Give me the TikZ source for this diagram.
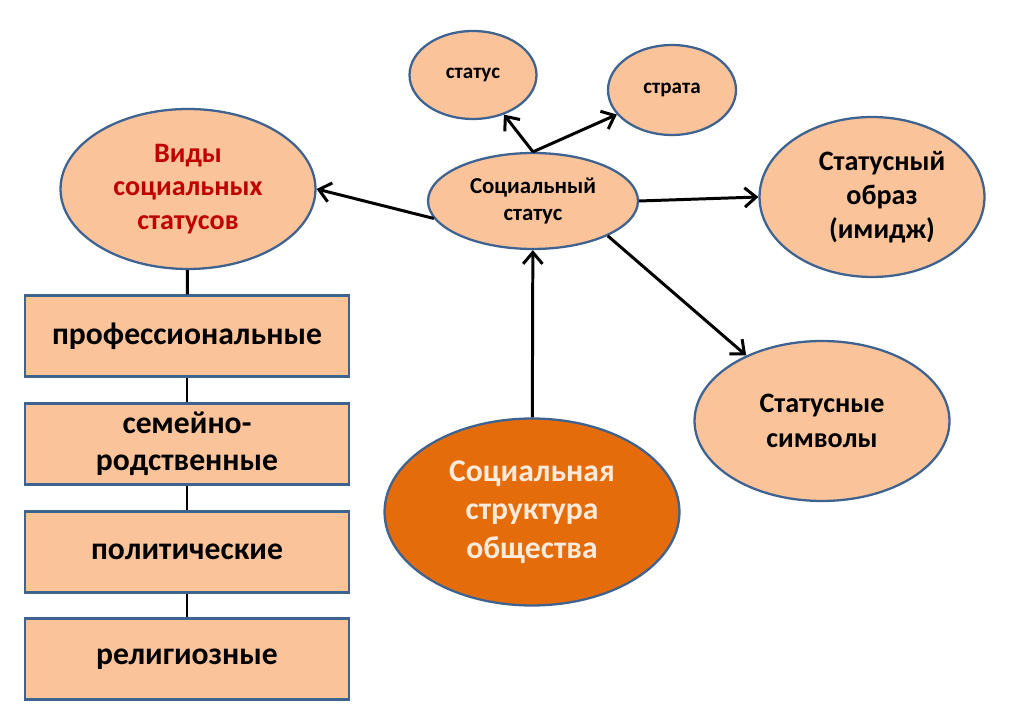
\documentclass[tikz,border=0pt]{standalone}
\usepackage{fontspec}
\setmainfont{Carlito}
\usetikzlibrary{arrows.meta,shapes.geometric,positioning}
\definecolor{peach}{HTML}{FAC39A}
\definecolor{edgeblue}{HTML}{3F6391}
\definecolor{deeporange}{HTML}{E46C0A}
\definecolor{darkred}{HTML}{C00000}
\definecolor{cream}{HTML}{FDEADA}

\begin{document}
\begin{tikzpicture}[x=0.02cm, y=-0.02cm,
    ell/.style={ellipse, draw=edgeblue, line width=1.3pt, fill=peach, inner sep=0pt, align=center},
    box/.style={draw=edgeblue, line width=1.3pt, fill=peach, minimum width=6.48cm, minimum height=1.62cm, align=center, font=\bfseries\fontsize{18}{21}\selectfont},
    arr/.style={-{Straight Barb[length=6.5pt,width=11pt]}, line width=1.7pt},
    lnk/.style={line width=1.7pt}
]
\useasboundingbox (0,0) rectangle (1024,715);

\node[ell, minimum width=2.54cm, minimum height=1.76cm, font=\bfseries\fontsize{12}{14.5}\selectfont] (stat) at (473,75) {статус};
\node[ell, minimum width=2.56cm, minimum height=1.8cm, font=\bfseries\fontsize{12}{14.5}\selectfont] (strata) at (672,90) {страта};
\node[ell, minimum width=4.2cm, minimum height=1.92cm, font=\bfseries\fontsize{13}{15.5}\selectfont] (soc) at (533,201) {Социальный\\статус};
\node[ell, minimum width=5.1cm, minimum height=3.2cm, text=darkred, font=\bfseries\fontsize{16}{19}\selectfont] (vid) at (188,189) {Виды\\социальных\\статусов};
\node[ell, minimum width=4.5cm, minimum height=3.2cm, font=\bfseries\fontsize{16}{19.5}\selectfont] (img) at (872,197) {\hspace*{0.4cm}Статусный\\\hspace*{0.4cm}образ\\\hspace*{0.4cm}(имидж)};
\node[ell, minimum width=5.1cm, minimum height=3.2cm, font=\bfseries\fontsize{16}{19.5}\selectfont] (sym) at (822,421) {Статусные\\символы};
\node[ell, minimum width=5.9cm, minimum height=3.74cm, fill=deeporange, text=cream, font=\bfseries\fontsize{18}{22}\selectfont] (sstr) at (532,512) {Социальная\\структура\\общества};

\node[box] (prof) at (187,336) {профессиональные};
\node[box] (fam) at (187,444) {семейно-\\родственные};
\node[box] (pol) at (187,552) {политические};
\node[box] (rel) at (187,659) {религиозные};

\draw[lnk] (vid) -- (prof);
\draw[lnk] (prof) -- (fam);
\draw[lnk] (fam) -- (pol);
\draw[lnk] (pol) -- (rel);

\draw[arr] (soc.north) -- (stat);
\draw[arr] (soc.north) -- (strata);
\draw[arr] (soc.190) -- (vid.east);
\draw[arr] (soc.east) -- (img.west);
\draw[arr] (soc.-25) -- (sym);
\draw[arr] (sstr) -- (soc);
\end{tikzpicture}
\end{document}
